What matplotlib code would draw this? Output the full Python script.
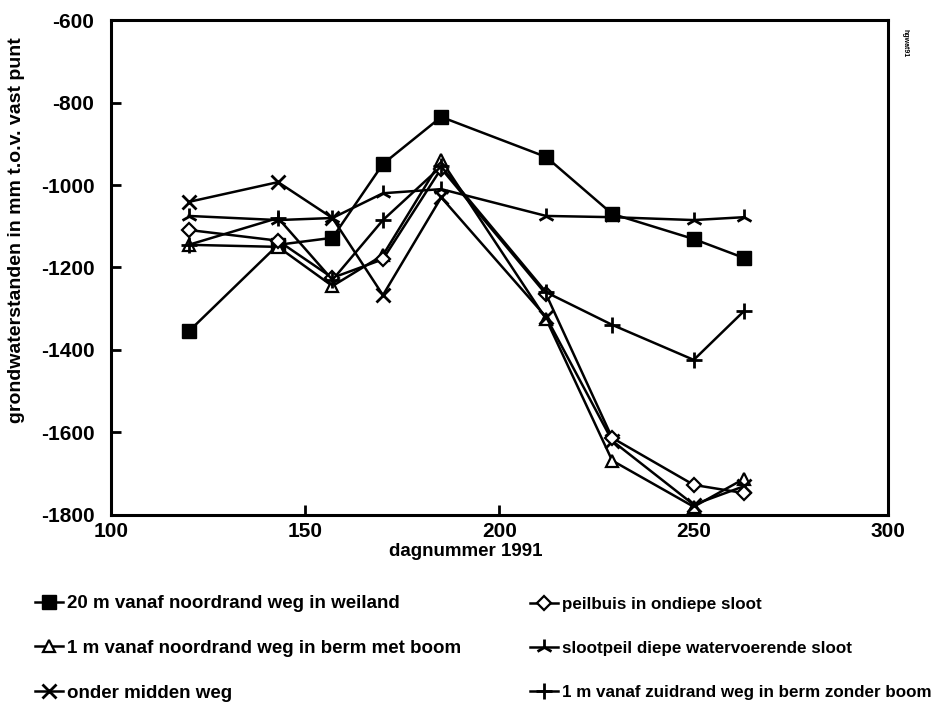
import matplotlib
matplotlib.use("Agg")
import matplotlib.pyplot as plt

plt.rcParams['font.family'] = ['Liberation Sans', 'DejaVu Sans']
plt.rcParams['font.weight'] = 'bold'
plt.rcParams['axes.labelweight'] = 'bold'
plt.rcParams['axes.unicode_minus'] = False

# dagnummers van de metingen
dagen = [120, 143, 157, 170, 185, 212, 229, 250, 263]

# grondwaterstanden (mm t.o.v. vast punt) per meetpunt
weiland_20m = [-1355, -1145, -1128, -949, -835, -932, -1070, -1131, -1177]
noord_berm_boom = [-1145, -1150, -1245, -1170, -940, -1325, -1668, -1780, -1712]
midden_weg = [-1041, -993, -1080, -1267, -1030, -1320, -1620, -1775, -1730]
peilbuis_sloot = [-1109, -1135, -1225, -1180, -960, -1265, -1613, -1727, -1747]
slootpeil = [-1075, -1085, -1080, -1020, -1010, -1075, -1078, -1085, -1078]
zuid_berm = [-1145, -1080, -1230, -1085, -955, -1260, -1339, -1424, -1305]

labels = [
    "20 m vanaf noordrand weg in weiland",
    "1 m vanaf noordrand weg in berm met boom",
    "onder midden weg",
    "peilbuis in ondiepe sloot",
    "slootpeil diepe watervoerende sloot",
    "1 m vanaf zuidrand weg in berm zonder boom",
]

fig = plt.figure(figsize=(9.36, 7.12), dpi=100)
ax = fig.add_axes([0.1186, 0.2767, 0.8301, 0.6952])

lw = 1.8
h1, = ax.plot(dagen, weiland_20m, color='black', lw=lw, marker='s', ms=10, label=labels[0])
h2, = ax.plot(dagen, noord_berm_boom, color='black', lw=lw, marker='^', ms=9,
              mfc='white', mew=1.6, label=labels[1])
h3, = ax.plot(dagen, midden_weg, color='black', lw=lw, marker='x', ms=10, mew=2, label=labels[2])
h4, = ax.plot(dagen, peilbuis_sloot, color='black', lw=lw, marker='D', ms=7,
              mfc='white', mew=1.6, label=labels[3])
h5, = ax.plot(dagen, slootpeil, color='black', lw=lw, marker='2', ms=12, mew=2, label=labels[4])
h6, = ax.plot(dagen, zuid_berm, color='black', lw=lw, marker='+', ms=12, mew=2, label=labels[5])

ax.set_xlim(100, 300)
ax.set_ylim(-1800, -600)
ax.set_xticks([100, 150, 200, 250, 300])
ax.set_yticks(range(-1800, -599, 200))
ax.tick_params(direction='in', length=7, width=2, labelsize=15)
ax.tick_params(axis='y', pad=12)
ax.tick_params(axis='x', pad=5)
for s in ax.spines.values():
    s.set_linewidth(2.2)

ax.set_xlabel("dagnummer 1991", fontsize=13.5)
ax.xaxis.set_label_coords(0.456, -0.056)
ax.set_ylabel("grondwaterstanden in mm t.o.v. vast punt", fontsize=14)
ax.yaxis.set_label_coords(-0.111, 0.576)

fig.text(0.967, 0.94, "hgwat91", rotation=270, fontsize=5, ha='center', va='center')

# twee kolommen legenda onder de grafiek
leg1 = fig.legend([h1, h2, h3], labels[:3], loc='upper left', bbox_to_anchor=(0.037, 0.164),
                  frameon=False, fontsize=13.5, handlelength=1.5, handletextpad=0.25,
                  labelspacing=1.47, borderaxespad=0, borderpad=0)
leg2 = fig.legend([h4, h5, h6], labels[3:], loc='upper left', bbox_to_anchor=(0.566, 0.162),
                  frameon=False, fontsize=12.25, handlelength=1.65, handletextpad=0.25,
                  labelspacing=1.7, borderaxespad=0, borderpad=0)

fig.savefig("out.png", dpi=100)
